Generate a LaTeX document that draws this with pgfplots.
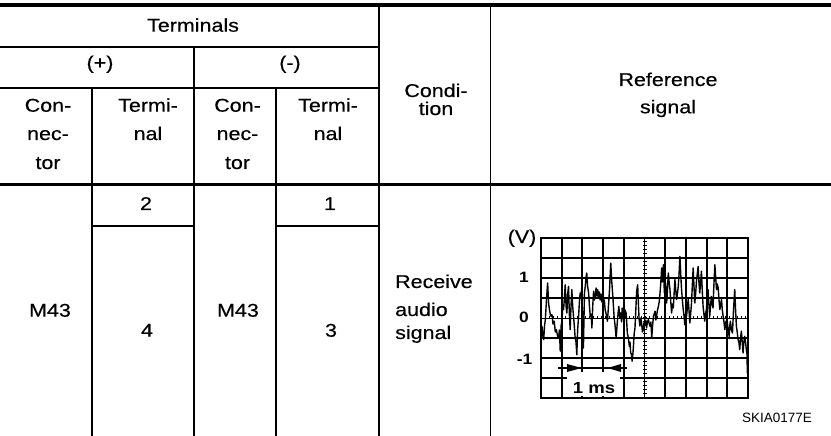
\documentclass[border=0pt]{standalone}
\usepackage{pgfplots}
\pgfplotsset{compat=1.18}
\usepackage{fontspec}
\setmainfont{Liberation Sans}[FakeStretch=1.16, UprightFeatures={FakeBold=0.4}]
\newfontfamily\plainfont{Liberation Sans}
\begin{document}
\begin{tikzpicture}[x=1pt,y=1pt]
\useasboundingbox (0,0) rectangle (831,436);
% table rules
\draw[line width=3.5pt] (0,431.2) -- (831,431.2);
\draw[line width=2.7pt] (0,251.5) -- (831,251.5);
\draw[line width=1.5pt] (0,389) -- (379,389);
\draw[line width=1.5pt] (0,348) -- (379,348);
\draw[line width=1.5pt] (92,210) -- (194,210);
\draw[line width=1.5pt] (276,210) -- (379,210);
\draw[line width=1.5pt] (92,348) -- (92,0);
\draw[line width=1.5pt] (194,389) -- (194,0);
\draw[line width=1.5pt] (276,348) -- (276,0);
\draw[line width=1.5pt] (379,431) -- (379,0);
\draw[line width=1.5pt] (490.5,431) -- (490.5,0);
% header text
\begin{scope}[every node/.style={inner sep=0pt, anchor=base, font=\fontsize{18.5}{22}\selectfont}]
\node at (193,404.3) {Terminals};
\node at (100,367) {(+)};
\node at (290,367) {(-)};
\node at (48,324.3) {Con-};
\node at (48,296) {nec-};
\node at (48,267) {tor};
\node at (148,324.3) {Termi-};
\node at (148,296) {nal};
\node at (237.5,324.3) {Con-};
\node at (237.5,296) {nec-};
\node at (237.5,267) {tor};
\node at (328,324.3) {Termi-};
\node at (328,296) {nal};
\node at (436,339) {Condi-};
\node at (436,321) {tion};
\node at (668,350) {Reference};
\node at (668,322.7) {signal};
\node at (146,226) {2};
\node at (330,226) {1};
\node at (50,119.3) {M43};
\node at (147,99.3) {4};
\node at (238,119.3) {M43};
\node at (331,99.3) {3};
\node[anchor=base west] at (395,148) {Receive};
\node[anchor=base west] at (395,120) {audio};
\node[anchor=base west] at (395,97) {signal};
\node at (522,193) {(V)};
\end{scope}
\begin{axis}[at={(541pt,38pt)}, anchor=south west, width=207pt, height=160pt,
  scale only axis, xmin=0, xmax=10, ymin=-2, ymax=2,
  xtick={1,2,3,4,6,7,8,9}, ytick={-1.5,-1,-0.5,0.5,1,1.5},
  xticklabels={}, yticklabels={}, major tick length=0pt,
  grid=major, major grid style={black, line width=1.9pt},
  axis line style={line width=2.6pt}]
\draw[black, line width=0.9pt] (axis cs:5,-2) -- (axis cs:5,2);
\draw[black, line width=4pt, dash pattern=on 0.9pt off 3.1pt] (axis cs:5,-2) -- (axis cs:5,2);
\draw[black, line width=0.9pt] (axis cs:0,0) -- (axis cs:10,0);
\draw[black, line width=3pt, dash pattern=on 0.9pt off 3.1pt] (axis cs:0,0) -- (axis cs:10,0);
\addplot[black, line width=1.4pt, line join=round] coordinates {
(0.02,-0.3)(0.05,-0.21)(0.09,-0.45)(0.13,-0.54)(0.17,-0.2)(0.21,-0.04)(0.27,0.5)(0.32,0.875)(0.37,0.35)(0.42,0.17)(0.47,0.05)(0.53,0.08)(0.58,-0.15)(0.64,-0.08)(0.69,-0.35)(0.74,-0.29)(0.80,-0.45)(0.85,-0.5)(0.89,-0.3)(0.93,-0.83)(0.97,-0.2)(1.01,-0.08)(1.05,0.3)(1.09,0.21)(1.13,0.5)(1.17,0.83)(1.21,0.3)(1.25,0.125)(1.29,0.6)(1.33,0.79)(1.37,0.1)(1.41,-0.29)(1.45,0.3)(1.49,0.71)(1.53,0.3)(1.57,0.04)(1.61,-0.2)(1.65,-0.5)(1.69,-0.6)(1.73,-0.92)(1.77,-0.3)(1.81,0)(1.85,0.35)(1.89,0.625)(1.93,0.5)(1.97,0.79)(2.01,-0.2)(2.05,-0.75)(2.08,0.1)(2.10,0.625)(2.14,0.8)(2.17,1.0)(2.21,1.125)(2.25,0.8)(2.30,0.625)(2.34,0.3)(2.38,0.04)(2.42,0.1)(2.46,-0.25)(2.50,0.3)(2.54,0.67)(2.58,0.45)(2.62,0.54)(2.66,0.75)(2.70,0.55)(2.74,0.71)(2.78,0.5)(2.82,0.65)(2.86,0.45)(2.90,0.6)(2.94,0.4)(2.98,0.55)(3.02,0.35)(3.06,0.45)(3.10,0.2)(3.15,0.1)(3.21,-0.08)(3.26,0.3)(3.31,0.71)(3.37,1.375)(3.42,0.9)(3.47,0.54)(3.53,0.04)(3.58,-0.2)(3.63,-0.5)(3.69,-0.08)(3.73,0.15)(3.76,0.29)(3.81,0.0)(3.85,0.125)(3.89,-0.1)(3.92,0.25)(3.97,0.05)(4.01,-0.08)(4.06,0.2)(4.11,0.125)(4.14,-0.1)(4.17,-0.375)(4.22,-0.5)(4.27,-0.71)(4.30,-0.6)(4.33,-0.875)(4.37,-0.9)(4.40,-1.08)(4.43,-0.95)(4.46,-0.75)(4.50,-0.4)(4.54,-0.25)(4.58,0.2)(4.62,0.67)(4.67,0.83)(4.71,0.3)(4.74,-0.04)(4.78,-0.2)(4.82,0)(4.86,-0.125)(4.90,-0.35)(4.94,-0.29)(4.98,-0.1)(5.02,-0.17)(5.06,-0.05)(5.10,-0.25)(5.14,-0.1)(5.19,-0.04)(5.23,-0.15)(5.27,-0.21)(5.31,-0.1)(5.35,-0.5)(5.39,-0.2)(5.43,0.04)(5.47,0.1)(5.51,0.17)(5.55,-0.05)(5.59,0.08)(5.63,0.2)(5.67,0.29)(5.71,0.4)(5.75,0.625)(5.79,0.9)(5.83,1.25)(5.87,0.9)(5.91,1.33)(5.96,0.625)(6.02,0.875)(6.07,0.375)(6.11,0.7)(6.15,1.125)(6.19,0.9)(6.23,0.71)(6.27,0.4)(6.31,0.125)(6.35,0.35)(6.39,0.25)(6.43,0.6)(6.47,0.96)(6.51,0.7)(6.55,0.46)(6.59,0.6)(6.63,0.79)(6.67,1.1)(6.71,1.54)(6.75,1.1)(6.79,0.71)(6.83,0.45)(6.87,0.21)(6.91,0.05)(6.95,-0.17)(6.99,0.1)(7.03,0.04)(7.07,0.25)(7.11,0.46)(7.15,0.2)(7.19,-0.125)(7.23,0.1)(7.27,0.375)(7.31,0.8)(7.35,1.25)(7.39,0.8)(7.43,0.375)(7.47,0.6)(7.51,0.92)(7.55,1.1)(7.59,1.29)(7.63,0.9)(7.67,0.625)(7.71,0.9)(7.75,1.17)(7.79,0.7)(7.83,0.29)(7.87,0.1)(7.91,-0.08)(7.95,0.1)(7.99,0.21)(8.03,0.45)(8.07,0.71)(8.11,0.35)(8.15,0.04)(8.19,0.3)(8.23,0.54)(8.27,0.35)(8.31,0.25)(8.35,0.8)(8.40,1.33)(8.44,1.0)(8.48,0.71)(8.52,0.85)(8.56,0.75)(8.60,0.45)(8.64,0.21)(8.68,0.35)(8.72,0.46)(8.76,0.2)(8.80,0.04)(8.84,-0.1)(8.88,-0.29)(8.93,-0.1)(8.99,-0.04)(9.04,-0.3)(9.09,-0.46)(9.12,-0.2)(9.15,-0.08)(9.20,-0.3)(9.25,-0.375)(9.30,0.2)(9.36,0.71)(9.40,0.2)(9.44,-0.21)(9.48,-0.35)(9.52,-0.54)(9.56,-0.6)(9.60,-0.79)(9.64,-0.5)(9.68,-0.33)(9.72,-0.6)(9.76,-0.875)(9.80,-0.6)(9.84,-0.46)(9.88,-0.6)(9.92,-0.79)(9.95,-0.9)(9.97,-1.375)
};
\end{axis}
% scope annotations
\fill[white] (567,39.6) rectangle (620,64);
\draw[black, line width=1.5pt] (558,68) -- (627,68);
\fill[black] (581.5,68) -- (567,72) -- (567,64) -- cycle;
\fill[black] (607.5,68) -- (621,72) -- (621,64) -- cycle;
\node[inner sep=0pt, anchor=base, font=\fontsize{16}{18}\selectfont\bfseries] at (594,42.7) {1 ms};
\begin{scope}[every node/.style={inner sep=0pt, anchor=base, font=\fontsize{15}{17}\selectfont\bfseries}]
\node at (524,153) {1};
\node at (524,113) {0};
\node at (524.5,71) {-1};
\end{scope}
\node[inner sep=0pt, anchor=base, font=\plainfont\fontsize{13.5}{15}\selectfont] at (777,13) {SKIA0177E};
\end{tikzpicture}
\end{document}
